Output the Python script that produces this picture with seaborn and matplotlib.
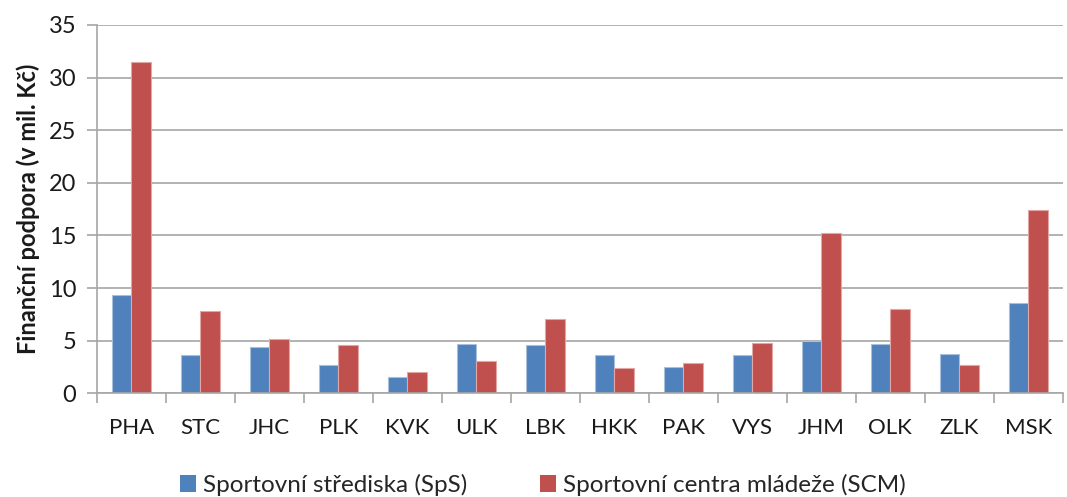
import matplotlib
matplotlib.use("Agg")
import matplotlib.pyplot as plt
from matplotlib.patches import Patch
from matplotlib.ticker import FixedLocator
import numpy as np
import pandas as pd
import seaborn as sns

# Regions (kraje)
regions = ["PHA", "STC", "JHC", "PLK", "KVK", "ULK", "LBK",
           "HKK", "PAK", "VYS", "JHM", "OLK", "ZLK", "MSK"]
# Financial support in millions CZK
sps = [9.3, 3.6, 4.4, 2.7, 1.5, 4.7, 4.55, 3.6, 2.5, 3.6, 5.0, 4.7, 3.7, 8.6]
scm = [31.5, 7.85, 5.15, 4.55, 2.0, 3.1, 7.1, 2.4, 2.85, 4.8, 15.2, 8.0, 2.65, 17.4]
series = ["Sportovní střediska (SpS)", "Sportovní centra mládeže (SCM)"]
colors = ["#4F81BD", "#C0504D"]
edge_colors = ["#a9c0dd", "#e2a6a4"]

df = pd.DataFrame({
    "kraj": regions * 2,
    "value": sps + scm,
    "series": [series[0]] * len(regions) + [series[1]] * len(regions),
})

sns.set_theme(style="white")
plt.rcParams["font.family"] = ["Lato", "DejaVu Sans"]

fig = plt.figure(figsize=(10.67, 4.97), dpi=100)
ax = fig.add_axes([0.0909, 0.2087, 0.9051, 0.741])

sns.barplot(data=df, x="kraj", y="value", hue="series", order=regions,
            hue_order=series, palette=colors, width=0.57, gap=0,
            saturation=1, legend=False, ax=ax)

# light rim around bars
n = len(regions)
for i, patch in enumerate(ax.patches[:2 * n]):
    patch.set_edgecolor(edge_colors[i // n])
    patch.set_linewidth(0.8)

ax.set_ylim(0, 35)
ax.set_xlim(-0.5, n - 0.5)
ax.set_yticks(np.arange(0, 36, 5))
ax.yaxis.grid(True, color="#a6a6a6", linewidth=1.2)
ax.set_axisbelow(True)

for side in ["top", "right"]:
    ax.spines[side].set_visible(False)
for side in ["left", "bottom"]:
    ax.spines[side].set_color("#a6a6a6")
    ax.spines[side].set_linewidth(1.2)

# x tick marks between categories, labels at the centres
ax.xaxis.set_minor_locator(FixedLocator(np.arange(-0.5, n, 1.0)))
ax.tick_params(axis="x", which="major", length=0, pad=18, labelsize=16,
               labelcolor="#1a1a1a")
ax.tick_params(axis="x", which="minor", length=7, width=1.2, color="#a6a6a6",
               bottom=True)
ax.tick_params(axis="y", which="major", length=7, width=1.2, color="#a6a6a6",
               left=True, pad=8, labelsize=17, labelcolor="#1a1a1a")

ax.set_xlabel("")
ax.set_ylabel("Finanční podpora (v mil. Kč)", fontsize=17, fontweight="bold",
              color="#1a1a1a", labelpad=6)

handles = [Patch(facecolor=c, edgecolor="none") for c in colors]
fig.legend(handles, series, loc="center", bbox_to_anchor=(0.509, 0.024),
           ncol=2, frameon=False, fontsize=17.5, handlelength=0.65,
           handleheight=0.65, handletextpad=0.3, columnspacing=3.0)

fig.savefig("out.png", dpi=100)
